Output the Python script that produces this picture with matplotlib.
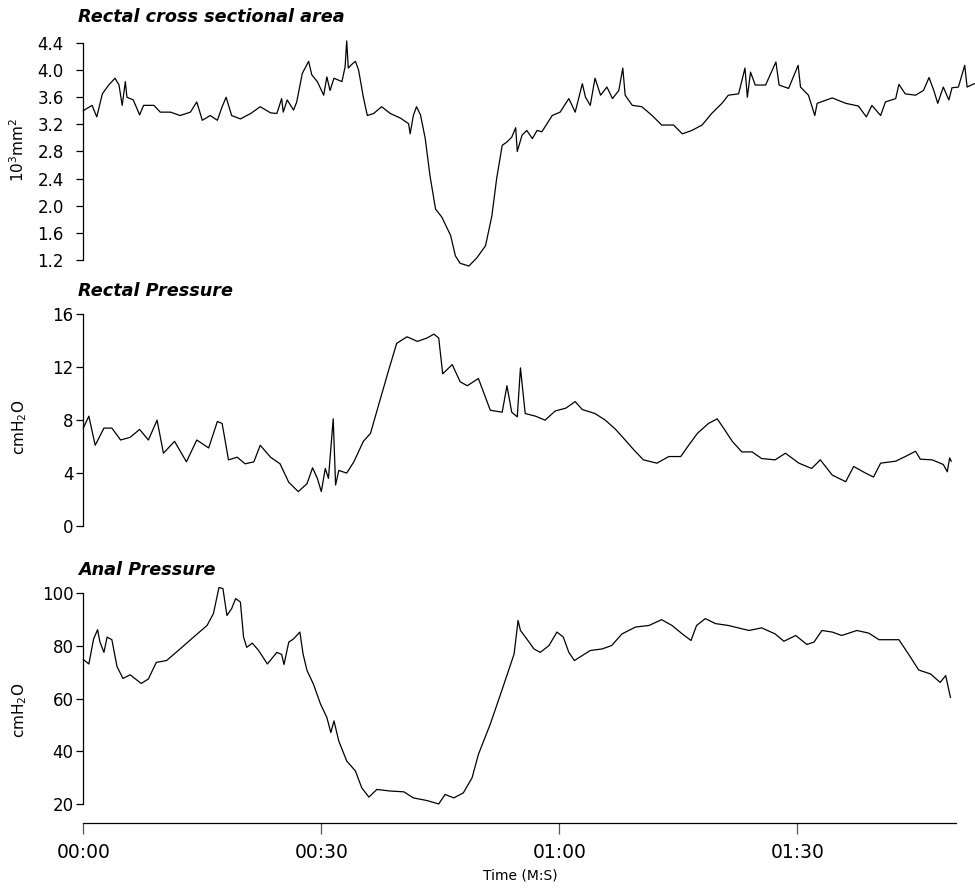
import matplotlib
matplotlib.use("Agg")
import matplotlib.pyplot as plt
import numpy as np

# time in seconds
area_t = [0.0, 0.25, 1.1, 1.7, 2.4, 3.2, 4.0, 4.5, 4.9, 5.3, 5.5, 6.3, 7.1, 7.6, 8.9, 9.7,
          11.0, 12.2, 13.5, 14.3, 15.0, 16.0, 16.9, 17.5, 18.0, 18.7, 19.8, 21.1, 22.3, 23.6,
          24.4, 25.0, 25.2, 25.7, 26.5, 26.9, 27.6, 28.4, 28.8, 29.5, 30.3, 30.7, 31.1, 31.6,
          32.6, 33.0, 33.2, 33.4, 33.8, 34.3, 34.7, 35.3, 35.8, 36.6, 37.6, 38.7, 40.0, 41.0,
          41.2, 41.6, 42.0, 42.5, 43.1, 43.7, 44.4, 45.2, 46.3, 46.9, 47.5, 48.6, 49.6, 50.7,
          51.5, 52.1, 52.8, 53.4, 54.0, 54.5, 54.7, 55.3, 55.9, 56.6, 57.2, 57.8, 59.1, 60.1,
          61.2, 62.0, 62.9, 63.3, 63.9, 64.5, 65.2, 66.0, 66.7, 67.5, 68.0, 68.3, 69.2, 70.4,
          71.7, 72.9, 74.4, 75.5, 76.7, 78.0, 79.2, 80.5, 81.3, 82.6, 83.4, 83.7, 84.1, 84.7,
          86.0, 87.3, 87.7, 88.9, 90.1, 90.4, 91.4, 92.2, 92.5, 94.4, 96.1, 97.7, 98.7, 99.4,
          100.5, 101.1, 102.4, 102.8, 103.6, 104.9, 105.9, 106.6, 107.2, 107.7, 108.4, 109.1,
          109.5, 110.3, 111.1, 111.4, 112.3]
area_v = [3.40, 3.42, 3.48, 3.31, 3.65, 3.78, 3.88, 3.78, 3.48, 3.83, 3.60, 3.56, 3.34, 3.48,
          3.48, 3.38, 3.38, 3.33, 3.38, 3.53, 3.26, 3.33, 3.26, 3.46, 3.60, 3.33, 3.28, 3.36,
          3.46, 3.37, 3.36, 3.58, 3.38, 3.56, 3.41, 3.53, 3.95, 4.13, 3.93, 3.83, 3.63, 3.90,
          3.70, 3.88, 3.83, 4.05, 4.43, 4.03, 4.08, 4.13, 4.00, 3.60, 3.33, 3.36, 3.46, 3.36,
          3.29, 3.21, 3.06, 3.33, 3.46, 3.34, 2.99, 2.44, 1.95, 1.83, 1.56, 1.26, 1.15, 1.11,
          1.23, 1.41, 1.85, 2.40, 2.89, 2.94, 3.01, 3.15, 2.80, 3.04, 3.11, 2.99, 3.11, 3.09,
          3.33, 3.38, 3.58, 3.38, 3.80, 3.60, 3.48, 3.88, 3.63, 3.75, 3.58, 3.70, 4.03, 3.63,
          3.48, 3.46, 3.33, 3.19, 3.19, 3.06, 3.11, 3.19, 3.36, 3.51, 3.63, 3.65, 4.03, 3.60,
          3.97, 3.78, 3.78, 4.12, 3.78, 3.73, 4.07, 3.75, 3.63, 3.33, 3.51, 3.59, 3.51, 3.47,
          3.31, 3.48, 3.33, 3.53, 3.58, 3.79, 3.65, 3.63, 3.70, 3.89, 3.70, 3.51, 3.75, 3.56,
          3.74, 3.75, 4.07, 3.75, 3.80]

rectal_t = [0.0, 0.7, 1.5, 2.6, 3.6, 4.7, 5.9, 7.1, 8.2, 9.3, 10.1, 11.5, 13.0, 14.3, 15.8,
            16.9, 17.5, 18.3, 19.4, 20.4, 21.5, 22.3, 23.6, 24.8, 25.9, 27.1, 28.2, 28.9, 29.5,
            30.0, 30.5, 30.9, 31.5, 31.8, 32.2, 33.2, 34.1, 35.3, 36.2, 37.2, 38.5, 39.5, 40.8,
            42.1, 43.3, 44.2, 44.8, 45.3, 46.5, 47.5, 48.4, 49.8, 51.3, 52.8, 53.4, 54.0, 54.7,
            55.1, 55.7, 57.0, 58.2, 59.5, 60.8, 62.0, 62.9, 64.5, 65.8, 67.1, 68.3, 69.4, 70.6,
            72.3, 73.8, 75.3, 76.3, 77.4, 78.8, 79.9, 80.7, 81.8, 83.0, 84.3, 85.5, 87.2, 88.5,
            90.2, 91.8, 92.9, 94.4, 96.1, 97.1, 98.6, 99.6, 100.5, 102.4, 103.6, 104.9, 105.5,
            107.0, 108.4, 108.9, 109.2, 109.4]
rectal_v = [7.4, 8.3, 6.1, 7.4, 7.4, 6.5, 6.7, 7.3, 6.5, 8.0, 5.5, 6.4, 4.85, 6.5, 5.9, 7.9,
            7.75, 5.0, 5.2, 4.7, 4.85, 6.1, 5.2, 4.7, 3.3, 2.6, 3.2, 4.4, 3.6, 2.6, 4.35, 3.6,
            8.1, 3.1, 4.2, 4.0, 4.85, 6.4, 7.0, 9.1, 11.8, 13.8, 14.3, 13.95, 14.2, 14.5, 14.2,
            11.5, 12.2, 10.9, 10.6, 11.15, 8.75, 8.6, 10.6, 8.6, 8.25, 11.95, 8.5, 8.3, 8.0,
            8.7, 8.9, 9.4, 8.8, 8.5, 8.0, 7.3, 6.5, 5.75, 5.0, 4.75, 5.25, 5.25, 6.1, 7.0, 7.75,
            8.1, 7.4, 6.4, 5.6, 5.6, 5.1, 5.0, 5.5, 4.75, 4.35, 5.0, 3.85, 3.35, 4.5, 4.0, 3.7,
            4.75, 4.9, 5.25, 5.65, 5.05, 5.0, 4.65, 4.1, 5.15, 4.9]

anal_t = [0.0, 0.7, 1.3, 1.8, 2.1, 2.6, 3.0, 3.6, 4.25, 5.0, 5.9, 7.3, 8.2, 9.2, 10.5, 12.2,
          13.9, 15.6, 16.4, 17.1, 17.6, 18.1, 18.7, 19.2, 19.8, 20.2, 20.6, 21.3, 22.1, 23.2,
          24.4, 25.0, 25.3, 25.9, 26.5, 27.3, 27.7, 28.2, 29.0, 29.9, 30.7, 31.2, 31.6, 32.2,
          33.2, 34.3, 35.1, 36.0, 37.0, 38.7, 40.4, 41.6, 43.3, 44.8, 45.6, 46.7, 47.9, 49.0,
          49.8, 51.3, 52.6, 53.6, 54.3, 54.8, 55.1, 55.9, 56.8, 57.6, 58.7, 59.7, 60.5, 61.2,
          61.9, 62.9, 63.9, 65.4, 66.6, 67.9, 69.6, 71.3, 72.9, 74.2, 75.5, 76.6, 77.3, 78.4,
          79.7, 81.3, 83.9, 85.5, 87.2, 88.3, 89.8, 91.2, 92.1, 93.1, 94.4, 95.6, 97.5, 99.0,
          100.3, 102.8, 104.0, 105.3, 106.8, 108.0, 108.7, 109.3]
anal_v = [74.9, 73.2, 82.7, 86.2, 81.5, 77.6, 83.4, 82.4, 72.2, 67.7, 69.1, 65.8, 67.5, 73.8,
          74.5, 78.9, 83.4, 87.8, 92.3, 102.2, 101.8, 91.6, 94.2, 98.0, 96.7, 83.4, 79.5, 81.1,
          78.3, 73.2, 77.6, 76.8, 73.0, 81.5, 82.7, 85.3, 77.0, 70.7, 65.6, 58.0, 52.9, 47.2,
          51.6, 44.0, 36.4, 32.6, 26.2, 22.7, 25.6, 25.0, 24.7, 22.4, 21.4, 20.1, 23.7, 22.4,
          24.3, 30.0, 38.9, 50.4, 61.8, 70.7, 77.0, 89.7, 85.9, 82.7, 78.9, 77.6, 80.2, 85.3,
          83.4, 77.6, 74.5, 76.4, 78.3, 78.9, 80.2, 84.6, 87.2, 87.8, 90.0, 87.8, 84.6, 82.1,
          87.8, 90.4, 88.5, 87.8, 85.9, 86.9, 84.6, 81.8, 84.0, 80.6, 81.5, 85.9, 85.3, 84.0,
          85.9, 84.9, 82.4, 82.4, 77.0, 70.9, 69.4, 66.2, 68.8, 60.5]

titles = ["Rectal cross sectional area", "Rectal Pressure", "Anal Pressure"]
ylabels = [r"10$^3$mm$^2$", r"cmH$_2$O", r"cmH$_2$O"]
area_ticks = [1.2, 1.6, 2.0, 2.4, 2.8, 3.2, 3.6, 4.0, 4.4]
rectal_ticks = [0, 4, 8, 12, 16]
anal_ticks = [20, 40, 60, 80, 100]
time_ticks = [0, 30, 60, 90]
time_labels = ["00:00", "00:30", "01:00", "01:30"]

W, H = 975, 888
fig = plt.figure(figsize=(W / 100, H / 100), dpi=100)

def px_axes(x0, y0, x1, y1):
    return fig.add_axes([x0 / W, 1 - y1 / H, (x1 - x0) / W, (y1 - y0) / H])

left, right = 83.3, 956.0
ax1 = px_axes(left, 39.6, right, 270.1)
ax2 = px_axes(left, 310.3, right, 530.0)
ax3 = px_axes(left, 585.4, right, 823.3)

panels = [
    (ax1, area_t, area_v, area_ticks, (1.05, 4.45), 9),
    (ax2, rectal_t, rectal_v, rectal_ticks, (-0.3, 16.3), 2),
    (ax3, anal_t, anal_v, anal_ticks, (12.76, 103.0), 2),
]

for ax, t, v, ticks, ylim, pad in panels:
    ax.plot(t, v, color="black", linewidth=0.9, clip_on=False)
    ax.set_xlim(0, 110)
    ax.set_ylim(*ylim)
    ax.set_yticks(ticks)
    ax.set_yticklabels([f"{x:.1f}" if isinstance(x, float) else str(x) for x in ticks])
    ax.spines["left"].set_bounds(ticks[0], ticks[-1])
    ax.spines["left"].set_linewidth(0.9)
    for s in ["top", "right"]:
        ax.spines[s].set_visible(False)
    ax.tick_params(axis="y", length=5, width=0.9, labelsize=12, pad=pad)
    ax.patch.set_visible(False)

for ax in (ax1, ax2):
    ax.spines["bottom"].set_visible(False)
    ax.set_xticks([])

ax3.spines["bottom"].set_linewidth(0.9)
ax3.set_xticks(time_ticks)
ax3.set_xticklabels(time_labels)
ax3.tick_params(axis="x", length=8, width=0.9, labelsize=13.5, pad=6, color="#555555")

# panel titles
title_y = [17, 291, 570]
for title, y in zip(titles, title_y):
    fig.text(78 / W, 1 - y / H, title, fontsize=12.7, fontweight="bold", fontstyle="italic",
             ha="left", va="center")

# y axis labels
label_pos = [(17.5, 150), (20, 427), (20, 710)]
for lab, (x, y) in zip(ylabels, label_pos):
    fig.text(x / W, 1 - y / H, lab, fontsize=11, rotation=90, ha="center", va="center")

fig.text(520 / W, 1 - 875 / H, "Time (M:S)", fontsize=10, ha="center", va="center")

fig.savefig("out.png", dpi=100)
